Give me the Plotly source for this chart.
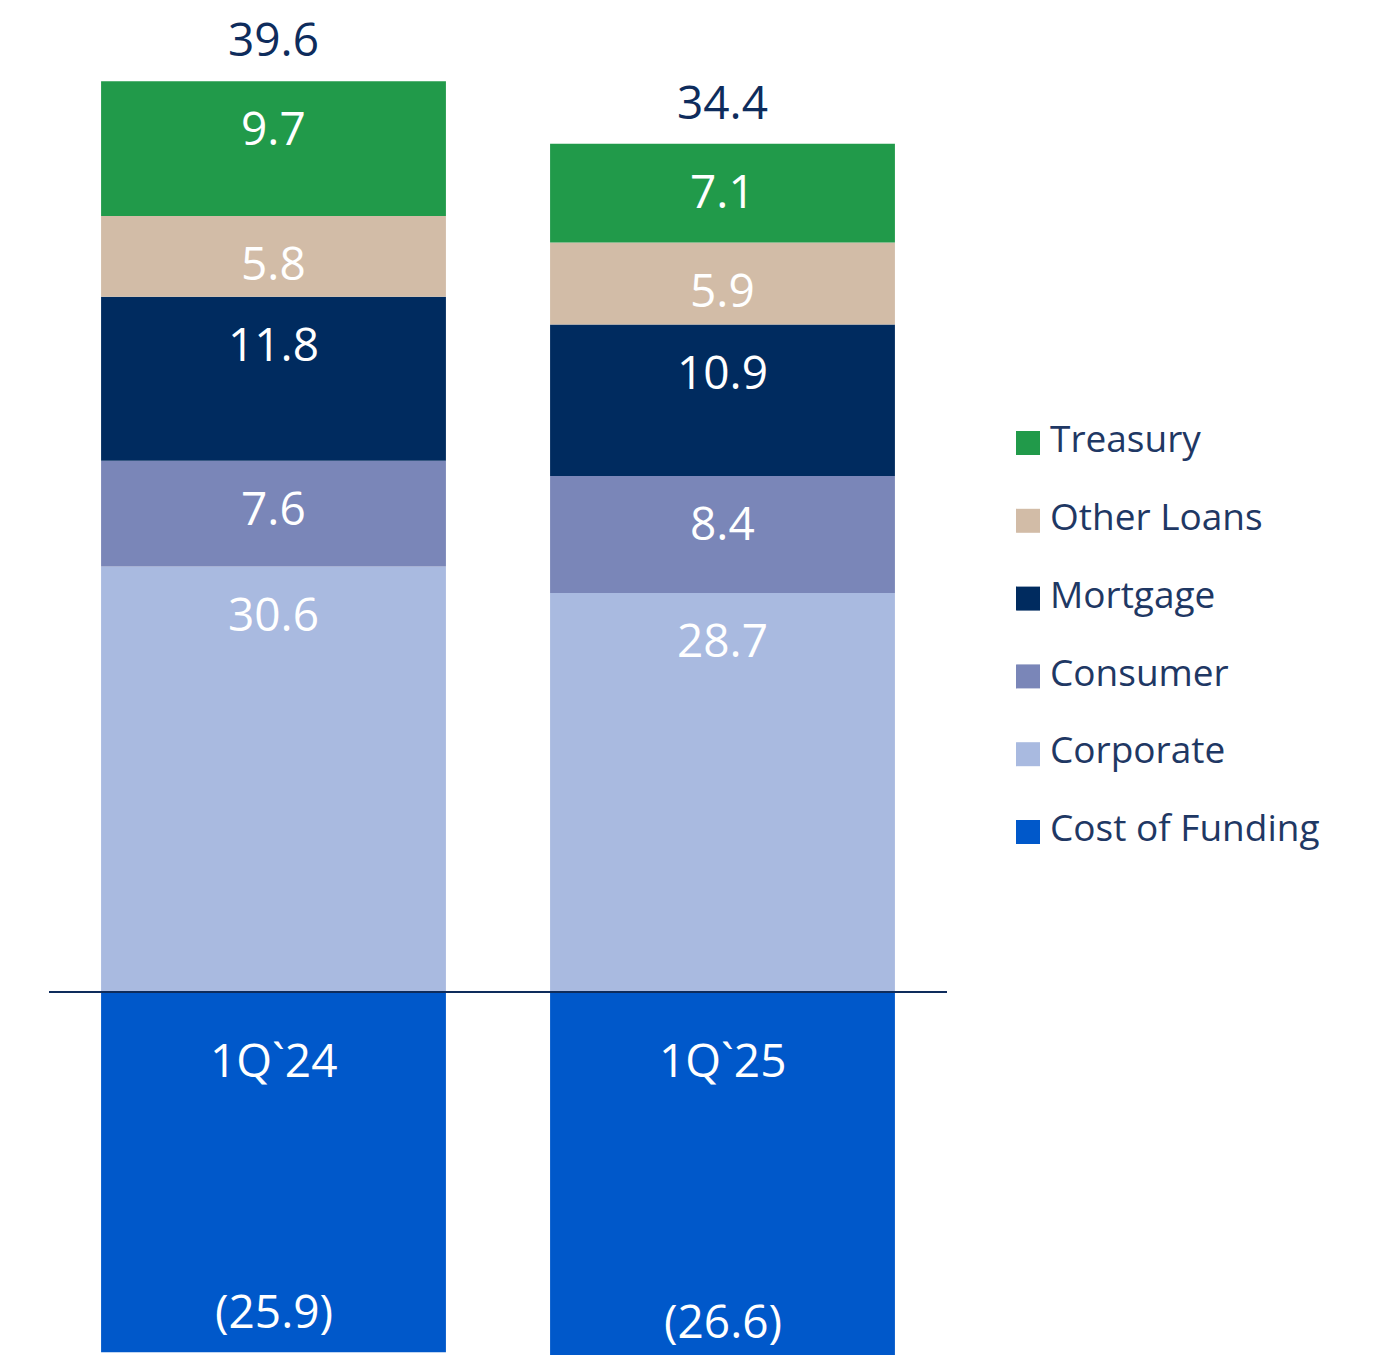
import numpy as np
import plotly.graph_objects as go

# ---- data ----
categories = ["1Q`24", "1Q`25"]
corporate = [30.6, 28.7]
consumer = [7.6, 8.4]
mortgage = [11.8, 10.9]
other_loans = [5.8, 5.9]
treasury = [9.7, 7.1]
cost_of_funding = [-25.9, -26.6]

series_names = ["Corporate", "Consumer", "Mortgage", "Other Loans", "Treasury"]
series_values = [corporate, consumer, mortgage, other_loans, treasury]
legend_order = ["Treasury", "Other Loans", "Mortgage", "Consumer", "Corporate", "Cost of Funding"]

colors = {
    "Treasury": "#219A4A",
    "Other Loans": "#D2BCA7",
    "Mortgage": "#002B5F",
    "Consumer": "#7A86B8",
    "Corporate": "#A9BAE0",
    "Cost of Funding": "#0058CA",
}
NAVY = "#0E2C5C"
FONT = "Open Sans"

# page has an 8px body margin, so the figure is laid out in a 1371x1347 box
W, H = 1371, 1347
PX_PER_UNIT = 13.905
ZERO_PX = 984
y_top = ZERO_PX / PX_PER_UNIT
y_bot = -(H - ZERO_PX) / PX_PER_UNIT

fig = go.Figure()

fig.add_trace(go.Bar(x=categories, y=cost_of_funding, name="Cost of Funding",
                     marker=dict(color=colors["Cost of Funding"], line=dict(width=0)),
                     showlegend=False))
for name, vals in zip(series_names, series_values):
    fig.add_trace(go.Bar(x=categories, y=vals, name=name,
                         marker=dict(color=colors[name], line=dict(width=0)),
                         showlegend=False))

annotations = []
# segment labels near top of each segment
cum = np.zeros(len(categories))
for name, vals in zip(series_names, series_values):
    cum = cum + np.array(vals)
    for i, c in enumerate(categories):
        annotations.append(dict(x=c, y=cum[i], xref="x", yref="y", text=f"{vals[i]:.1f}",
                                showarrow=False, yshift=-46, yanchor="middle",
                                font=dict(family=FONT, size=46, color="white")))
# totals
totals = cum + np.array(cost_of_funding)
for i, c in enumerate(categories):
    annotations.append(dict(x=c, y=cum[i], xref="x", yref="y", text=f"{totals[i]:.1f}",
                            showarrow=False, yshift=43, yanchor="middle",
                            font=dict(family=FONT, size=46, color=NAVY)))
    # category label inside the negative bar
    annotations.append(dict(x=c, y=0, xref="x", yref="y", text=c,
                            showarrow=False, yshift=-67, yanchor="middle",
                            font=dict(family=FONT, size=46, color="white")))
    # negative value, placed 42px above the bar end (converted to data units
    # so the anchor stays inside the visible range)
    annotations.append(dict(x=c, y=cost_of_funding[i] + 42 / PX_PER_UNIT, xref="x", yref="y",
                            text=f"({abs(cost_of_funding[i]):.1f})",
                            showarrow=False, yanchor="middle",
                            font=dict(family=FONT, size=46, color="white")))

# custom legend (large square swatches) on an auxiliary axis
leg_idx = list(range(len(legend_order)))
fig.add_trace(go.Scatter(x=[28] * len(legend_order), y=leg_idx, mode="markers",
                         marker=dict(symbol="square", size=24,
                                     color=[colors[n] for n in legend_order]),
                         xaxis="x2", yaxis="y2", showlegend=False, hoverinfo="skip"))
fig.add_trace(go.Scatter(x=[50] * len(legend_order), y=leg_idx, mode="text",
                         text=legend_order, textposition="middle right",
                         textfont=dict(family=FONT, size=37, color="#1F3864"),
                         xaxis="x2", yaxis="y2", showlegend=False, hoverinfo="skip"))

LEG_TOP, LEG_STEP = 435, 77.8
fig.update_layout(
    width=W, height=H,
    margin=dict(l=0, r=0, t=0, b=0),
    paper_bgcolor="white", plot_bgcolor="white",
    barmode="relative", bargap=0.232,
    showlegend=False,
    annotations=annotations,
    xaxis=dict(domain=[41 / W, 939 / W], range=[-0.5, 1.5], showticklabels=False,
               showgrid=False, zeroline=False, showline=False, ticks=""),
    yaxis=dict(range=[y_bot, y_top], showticklabels=False, showgrid=False,
               zeroline=False, showline=False, ticks=""),
    xaxis2=dict(domain=[992 / W, 1.0], range=[0, W - 992], anchor="y2", visible=False),
    yaxis2=dict(domain=[0, 1], range=[(H - LEG_TOP) / LEG_STEP, -LEG_TOP / LEG_STEP],
                anchor="x2", visible=False),
    shapes=[dict(type="line", xref="x domain", yref="y", x0=0, x1=1, y0=0, y1=0,
                 line=dict(color="#0E2C5C", width=2), layer="above")],
)

fig.write_html("out.html")
